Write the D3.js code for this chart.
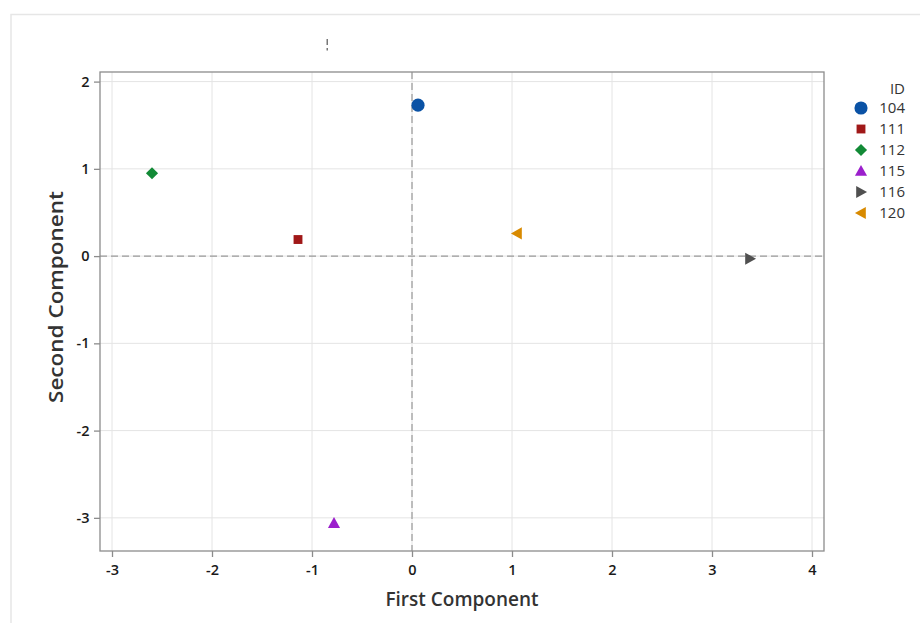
<!DOCTYPE html>
<html><head><meta charset="utf-8">
<script src="https://cdn.jsdelivr.net/npm/d3@7"></script>
<style>body{margin:0;background:#fff;}svg{display:block;font-family:"Open Sans","Noto Sans",sans-serif;}</style>
</head><body><div id="chart"></div>
<script>
const ids = ["104","111","112","115","116","120"];
const firstComp = [0.06,-1.14,-2.60,-0.78,3.38,1.05];
const secondComp = [1.73,0.19,0.95,-3.06,-0.03,0.26];
const colors = ["#0a52a5","#a01818","#128a36","#9b1fcc","#505050","#d88a00"];
const shapes = ["circle","square","diamond","triangleUp","triangleRight","triangleLeft"];
const xTicks = [-3,-2,-1,0,1,2,3,4];
const yTicks = [-3,-2,-1,0,1,2];

const W=920,H=623;
const svg=d3.select("#chart").append("svg").attr("width",W).attr("height",H);
// outer faint frame
svg.append("path").attr("d","M11,623V14.5H920").attr("fill","none").attr("stroke","#e6e6e6").attr("stroke-width",1.5);

const L=100,T=72,R=824,B=551;
const x=d3.scaleLinear().domain([-3.12,4.12]).range([L,R]);
const y=d3.scaleLinear().domain([-3.38,2.11]).range([B,T]);

// gridlines
svg.append("g").selectAll("line").data(xTicks).join("line")
 .attr("x1",d=>x(d)).attr("x2",d=>x(d)).attr("y1",T).attr("y2",B).attr("stroke","#e4e4e4");
svg.append("g").selectAll("line").data(yTicks).join("line")
 .attr("y1",d=>y(d)).attr("y2",d=>y(d)).attr("x1",L).attr("x2",R).attr("stroke","#e4e4e4");
// reference lines
svg.append("line").attr("x1",x(0)).attr("x2",x(0)).attr("y1",T).attr("y2",B).attr("stroke","#9a9a9a").attr("stroke-dasharray","7,4").attr("stroke-width",1.2);
svg.append("line").attr("y1",y(0)).attr("y2",y(0)).attr("x1",L).attr("x2",R).attr("stroke","#9a9a9a").attr("stroke-dasharray","7,4").attr("stroke-width",1.2);
// frame
svg.append("rect").attr("x",L).attr("y",T).attr("width",R-L).attr("height",B-T).attr("fill","none").attr("stroke","#8c8c8c").attr("stroke-width",1.3);

// axes
const fmt = d=>String(d);
const xa=svg.append("g").attr("transform",`translate(0,${B})`).call(d3.axisBottom(x).tickValues(xTicks).tickSize(6).tickSizeOuter(0).tickFormat(fmt));
const ya=svg.append("g").attr("transform",`translate(${L},0)`).call(d3.axisLeft(y).tickValues(yTicks).tickSize(6).tickSizeOuter(0).tickFormat(fmt));
[xa,ya].forEach(a=>{a.select(".domain").remove();a.selectAll(".tick line").attr("stroke","#8c8c8c").attr("stroke-width",1.3);
 a.selectAll("text").attr("fill","#1a1a1a").style("font-size","14.5px").style("font-weight","600").style("font-family","'Open Sans',sans-serif");});
xa.selectAll("text").attr("dy","1.05em");
ya.selectAll("text").attr("dx","-0.1em");

// axis titles
svg.append("text").attr("x",462).attr("y",606).attr("text-anchor","middle").attr("fill","#333").style("font-size","19px").style("font-weight","600").text("First Component");
svg.append("text").attr("transform","translate(63,297) rotate(-90)").attr("text-anchor","middle").attr("fill","#333").style("font-size","19px").style("font-weight","600")
 .attr("textLength",212).attr("lengthAdjust","spacingAndGlyphs").text("Second Component");

// stray mark
svg.append("rect").attr("x",326.5).attr("y",39).attr("width",1.5).attr("height",6).attr("fill","#777");
svg.append("rect").attr("x",326.5).attr("y",48).attr("width",1.5).attr("height",2.5).attr("fill","#777");

// symbols
function sym(shape,s){
 switch(shape){
  case "circle": return d3.symbol(d3.symbolCircle,s*s*0.8)();
  case "square": return d3.symbol(d3.symbolSquare,s*s*0.65)();
  case "diamond": {const r=s*0.55;return `M0,${-r}L${r},0L0,${r}L${-r},0Z`;}
  case "triangleUp": {const r=s*0.55;return `M0,${-r}L${r},${r*0.8}L${-r},${r*0.8}Z`;}
  case "triangleRight": {const r=s*0.55;return `M${r},0L${-r*0.8},${-r}L${-r*0.8},${r}Z`;}
  case "triangleLeft": {const r=s*0.55;return `M${-r},0L${r*0.8},${-r}L${r*0.8},${r}Z`;}
 }
}
const pts=ids.map((id,i)=>({id,x:firstComp[i],y:secondComp[i],c:colors[i],s:shapes[i]}));
svg.append("g").selectAll("path").data(pts).join("path")
 .attr("transform",d=>`translate(${x(d.x)},${y(d.y)})`)
 .attr("d",d=>sym(d.s,d.s==="circle"?13:11)).attr("fill",d=>d.c);

// legend
const lg=svg.append("g");
lg.append("text").attr("x",905).attr("y",94).attr("text-anchor","end").attr("fill","#333").style("font-size","15px").text("ID");
const it=lg.selectAll("g.it").data(pts).join("g").attr("class","it").attr("transform",(d,i)=>`translate(0,${108+i*21})`);
it.append("path").attr("transform","translate(861,0)").attr("d",d=>sym(d.s,d.s==="circle"?13:11)).attr("fill",d=>d.c);
it.append("text").attr("x",905).attr("y",5).attr("text-anchor","end").attr("fill","#333").style("font-size","15px").text(d=>d.id);
</script></body></html>
